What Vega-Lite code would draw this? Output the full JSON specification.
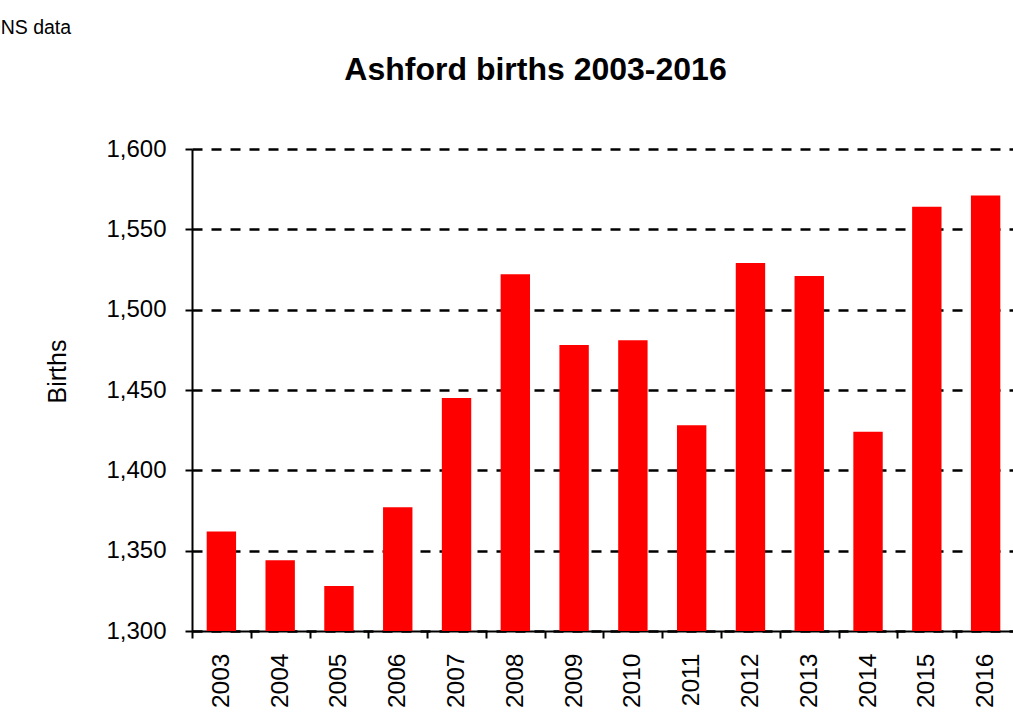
{
  "$schema": "https://vega.github.io/schema/vega-lite/v6.json",
  "width": 823,
  "height": 482,
  "autosize": {"type": "none"},
  "padding": {"left": 192, "top": 149, "right": 0, "bottom": 82},
  "background": "white",
  "config": {
    "font": "Liberation Sans",
    "view": {"stroke": null}
  },
  "title": {
    "text": "Ashford births 2003-2016",
    "font": "Liberation Sans",
    "fontSize": 32,
    "fontWeight": "bold",
    "color": "#000000",
    "anchor": "middle",
    "baseline": "alphabetic",
    "offset": -95,
    "dx": -68
  },
  "data": {
    "values": [
      {"year": "2003", "births": 1362},
      {"year": "2004", "births": 1344},
      {"year": "2005", "births": 1328},
      {"year": "2006", "births": 1377},
      {"year": "2007", "births": 1445},
      {"year": "2008", "births": 1522},
      {"year": "2009", "births": 1478},
      {"year": "2010", "births": 1481},
      {"year": "2011", "births": 1428},
      {"year": "2012", "births": 1529},
      {"year": "2013", "births": 1521},
      {"year": "2014", "births": 1424},
      {"year": "2015", "births": 1564},
      {"year": "2016", "births": 1571}
    ]
  },
  "mark": {"type": "bar", "color": "#FF0000", "clip": true},
  "encoding": {
    "x": {
      "field": "year",
      "type": "ordinal",
      "scale": {"paddingInner": 0.5, "paddingOuter": 0.25},
      "axis": {
        "title": "ONS data",
        "titleFont": "Liberation Sans",
        "titleFontSize": 19.5,
        "titleFontWeight": "normal",
        "titleColor": "#000000",
        "titleAngle": 0,
        "titleAlign": "left",
        "titleBaseline": "alphabetic",
        "titleAnchor": null,
        "titleX": -207,
        "titleY": -598,
        "labelAngle": 270,
        "labelAlign": "right",
        "labelBaseline": "middle",
        "labelFontSize": 24.5,
        "labelColor": "#000000",
        "labelPadding": 15,
        "tickOffset": -29.4,
        "labelOffset": 29.4,
        "tickSize": 7,
        "tickWidth": 2,
        "tickColor": "#000000",
        "domainColor": "#000000",
        "domainWidth": 2,
        "grid": false
      }
    },
    "y": {
      "field": "births",
      "type": "quantitative",
      "scale": {"domain": [1300, 1600], "nice": false, "zero": false},
      "axis": {
        "title": "Births",
        "titleFont": "Liberation Sans",
        "titleFontSize": 25,
        "titleFontWeight": "normal",
        "titleColor": "#000000",
        "titleAngle": 270,
        "titleAlign": "center",
        "titleBaseline": "middle",
        "titleX": -135,
        "titleY": 222,
        "values": [1300, 1350, 1400, 1450, 1500, 1550, 1600],
        "format": ",d",
        "labelFontSize": 24,
        "labelColor": "#000000",
        "labelPadding": 19,
        "tickSize": 7,
        "tickWidth": 2,
        "tickColor": "#000000",
        "domainColor": "#000000",
        "domainWidth": 2,
        "grid": true,
        "gridColor": "#000000",
        "gridWidth": 2.5,
        "gridDash": [10, 9]
      }
    }
  }
}
